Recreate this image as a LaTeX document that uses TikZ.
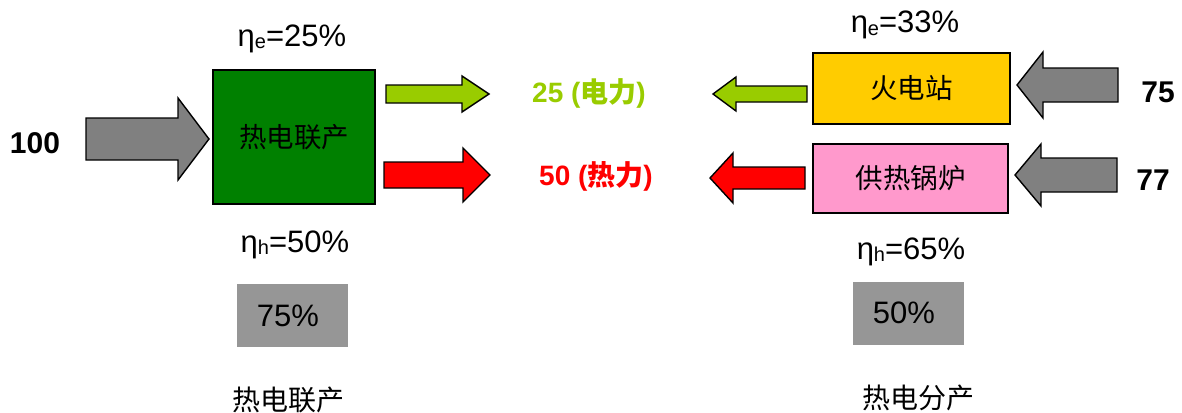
\documentclass[tikz,border=0pt]{standalone}
\usepackage{fontspec}
\setmainfont{Liberation Sans}
\newfontfamily\cjk{Noto Sans CJK SC}
\definecolor{arrowgray}{HTML}{808080}
\definecolor{boxgray}{HTML}{969696}
\definecolor{chpgreen}{HTML}{008000}
\definecolor{elgreen}{HTML}{99CC00}
\definecolor{plantyellow}{HTML}{FFCC00}
\definecolor{boilerpink}{HTML}{FF99CC}
\newcommand{\blockarr}[7]{\draw[arrowline,fill=#1] (#2,{#5-#6}) -- (#3,{#5-#6}) -- (#3,{#5-#7}) -- (#4,#5) -- (#3,{#5+#7}) -- (#3,{#5+#6}) -- (#2,{#5+#6}) -- cycle;}
\tikzset{
  arrowline/.style={draw=black,line width=1.4pt,line join=miter},
  unitbox/.style={draw=black,line width=1.4pt,inner sep=0pt,font=\cjk\fontsize{27.5}{27.5}\selectfont},
  pctbox/.style={fill=boxgray,inner sep=0pt},
  pcttxt/.style={font=\fontsize{31}{31}\selectfont,inner sep=0pt,anchor=base},
  eta/.style={font=\fontsize{31}{31}\selectfont,inner sep=0pt,anchor=base},
  bignum/.style={font=\bfseries\fontsize{30}{30}\selectfont,inner sep=0pt,anchor=base},
  flowlbl/.style={font=\bfseries\fontsize{28}{28}\selectfont,inner sep=0pt,anchor=base},
  caption/.style={font=\cjk\fontsize{28}{28}\selectfont,inner sep=0pt}
}
\newcommand{\etatxt}[2]{η\raisebox{-0.07em}{\fontsize{20}{20}\selectfont #1}=#2}
\begin{document}
\begin{tikzpicture}[x=1pt,y=-1pt]
\useasboundingbox (0,0) rectangle (1182,412);
% left side
\blockarr{arrowgray}{86}{178}{209}{139}{21}{41}
\node[bignum] (in100) at (35,153) {100};
\node[unitbox,fill=chpgreen,minimum width=162pt,minimum height=134pt] (chp) at (294,137) {热电联产};
\node[eta] (etaeL) at (292,46) {\etatxt{e}{25\%}};
\node[eta] (etahL) at (295,252) {\etatxt{h}{50\%}};
\node[pctbox,minimum width=111pt,minimum height=63pt] (pL) at (292.5,315.5) {};
\node[pcttxt] (pLt) at (288,326) {75\%};
\node[caption] (capL) at (288,400) {热电联产};
\blockarr{elgreen}{386}{462}{489}{94}{9}{18}
\blockarr{red}{384}{463}{490}{175}{13}{27}
% middle labels
\node[flowlbl,text=elgreen] (el) at (589,102) {25 ({\cjk 电力})};
\node[flowlbl,text=red] (ht) at (596,185) {50 ({\cjk 热力})};
% right side
\blockarr{elgreen}{807}{736}{713}{94}{8}{17}
\blockarr{red}{805}{733}{710}{178}{11}{25}
\node[unitbox,fill=plantyellow,minimum width=197pt,minimum height=71pt] (plant) at (911.5,88.5) {火电站};
\node[unitbox,fill=boilerpink,minimum width=195pt,minimum height=69pt] (boiler) at (910.5,178.5) {供热锅炉};
\blockarr{arrowgray}{1118}{1043}{1017}{85}{17}{33}
\blockarr{arrowgray}{1117}{1041}{1015}{175}{17}{31}
\node[bignum] (in75) at (1158,102) {75};
\node[bignum] (in77) at (1153,190) {77};
\node[eta] (etaeR) at (905,33) {\etatxt{e}{33\%}};
\node[eta] (etahR) at (911,259) {\etatxt{h}{65\%}};
\node[pctbox,minimum width=111pt,minimum height=63pt] (pR) at (908.5,313.5) {};
\node[pcttxt] (pRt) at (904,323) {50\%};
\node[caption] (capR) at (918,398) {热电分产};
\end{tikzpicture}
\end{document}
